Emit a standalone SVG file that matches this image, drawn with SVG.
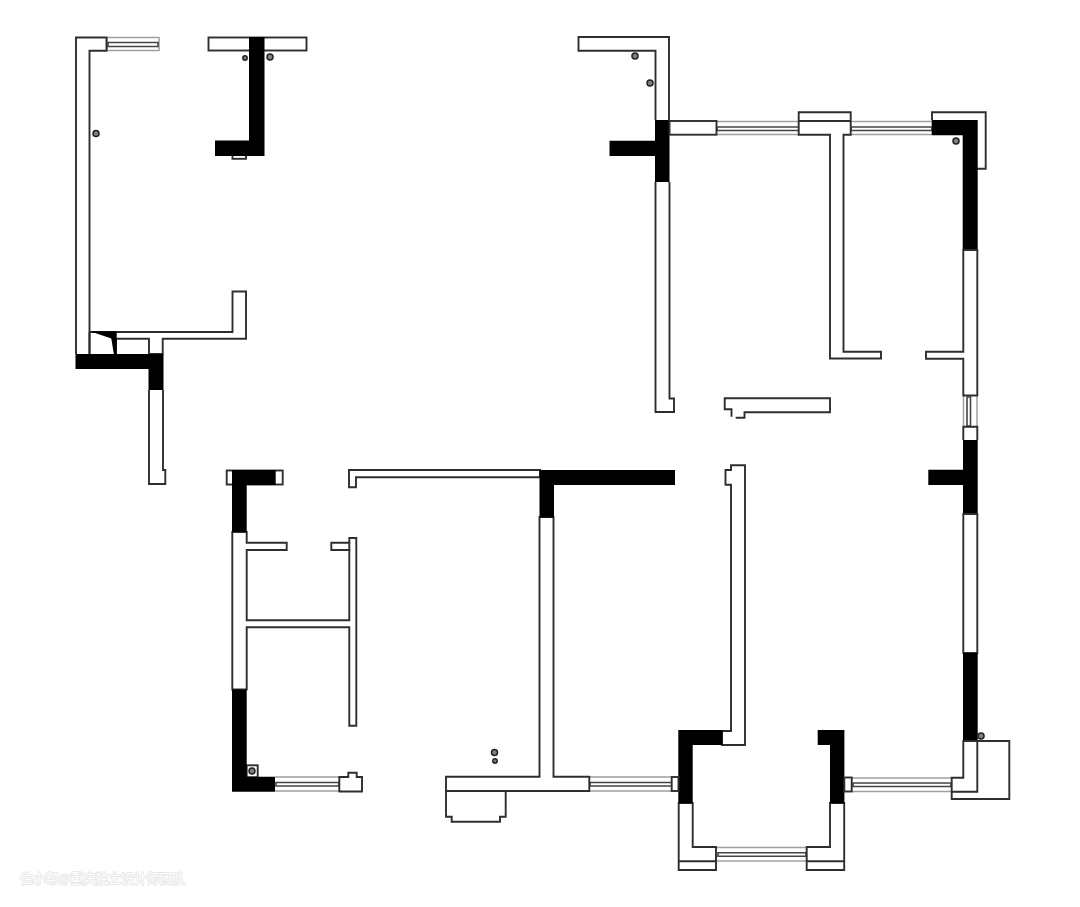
<svg xmlns="http://www.w3.org/2000/svg" width="1080" height="907" viewBox="0 0 1080 907">
<style>
.w{fill:#fff;stroke:#2e2e2e;stroke-width:1.9;stroke-linejoin:miter}
.l{fill:none;stroke:#2e2e2e;stroke-width:1.9}
.b{fill:#000;stroke:none}
.g{fill:none;stroke:#a0a0a0;stroke-width:1.5}
.i{fill:#fff;stroke:#444;stroke-width:1.6}
.c{fill:#808080;stroke:#222;stroke-width:1.5}
.m{font-family:"Noto Sans CJK SC","Liberation Sans",sans-serif;font-size:13px;fill:#fff;stroke:#e6e6e6;stroke-width:1.6px;paint-order:stroke}
</style>
<rect width="1080" height="907" fill="#fff"/>

<!-- windows -->
<g id="windows">
<path class="g" d="M107 37.5H159V50.5H107ZM717 121.5H799M717 134.5H799M851 121.5H932M851 134.5H932M275 777H339M275 791H339M589 777H672M589 791H672M852 778H952M852 791.5H952M716 847.5H807M716 861H807M963.5 396V427M977 396V427"/>
<path class="i" d="M108 42.5H158V46.5H108ZM717 127H799V130.5H717ZM851 127H932V130.5H851ZM276 782.5H339V786H276ZM590 782.5H672V786H590ZM853 783H951V786.5H853ZM718 852.7H806V856.2H718ZM967 397V426H970.5V397Z"/>
</g>

<!-- top-left walls -->
<path class="w" d="M76 354V37.5H106.5V50.7H89.5V354"/>
<path class="w" d="M89.5 332H232.5V291.5H246V338.7H162.7V354H149V338.7H116V354"/>
<path class="l" d="M89.5 332V354"/>
<path class="b" d="M90 331.3H116.7V354H113.8L111.3 338.5Z"/>
<path class="b" d="M75.5 354H163.5V390H148.5V369H75.5Z"/>
<path class="w" d="M149 390V484H165.3V470H163V390"/>

<!-- top T wall -->
<rect class="w" x="208.5" y="37.5" width="98" height="13"/>
<rect class="w" x="232.5" y="155" width="13.5" height="3.8"/>
<path class="b" d="M249 37H264.5V156H215V140.5H249Z"/>

<!-- upper-right walls -->
<path class="w" d="M655.5 120V50.7H578.5V37H669V120"/>
<path class="w" d="M655.5 182V412H674V398.5H669.5V182"/>
<path class="b" d="M655 120H669.5V182H655V156H609.5V140.7H655Z"/>
<rect class="w" x="669.5" y="121" width="47" height="13.7"/>
<path class="w" d="M830 358.5V134.7H798.7V112.3H850.7V134.7H843.5V351.7H881V358.5Z"/>
<path class="l" d="M798.7 121H850.7"/>
<path class="w" d="M932 120V112.3H985.7V168.7H977"/>
<path class="b" d="M931.7 120H977.7V250.5H962.7V135.3H931.7Z"/>

<!-- right wall -->
<path class="w" d="M963.3 250V351.7H926V358.7H963.3V395.5H977.3V250Z"/>
<path class="w" d="M963.3 440V426.7H977.3V440"/>
<path class="b" d="M963 440H977.7V514.5H963V485H928.3V469.7H963Z"/>
<path class="w" d="M963.3 514V653H977.3V514Z"/>
<path class="b" d="M963 653H977.7V741.5H963Z"/>
<path class="w" d="M977.3 741H1009.3V799H951.7V777.7H963.3V741H977.3V791.7H951.7"/>

<!-- beam -->
<path class="l" d="M735.7 417.7H744.5V412.3H830V398.3H724.7V409.3H731.5V416.7"/>

<!-- bay -->
<path class="w" d="M745 465.3H731V470H725.5V484.7H731V731H722V745H745Z"/>
<path class="w" d="M678.7 803V870H716V847H692.7V803Z"/>
<path class="l" d="M678.7 861.3H716"/>
<path class="w" d="M844.2 803V870H806.7V847H830V803Z"/>
<path class="l" d="M806.7 861.3H844.2"/>
<path class="b" d="M678.3 730H722.5V745H692.7V803.3H678.3Z"/>
<path class="b" d="M817.7 730H844.4V803.3H830V745H817.7Z"/>
<rect class="w" x="844.3" y="777.5" width="7.4" height="14"/>
<rect class="w" x="671.7" y="777" width="6.8" height="14"/>

<!-- lower-left rooms -->
<rect class="w" x="226.7" y="470.5" width="56" height="14"/>
<path class="w" d="M232.3 532V689.5H246.7V627.3H349.3V725.7H356.3V538H349.3V542.7H331.3V550H349.3V620.3H246.7V550H286.7V542.7H246.7V532Z"/>
<path class="l" d="M349.3 542V551"/>
<path class="b" d="M232 470H275.7V485H246.7V532H232Z"/>
<rect class="w" x="246.7" y="765.3" width="11" height="12"/>
<path class="b" d="M232 689.5H246.7V776.7H275V791.7H232Z"/>
<path class="w" d="M339.3 791.5V777H348.3V772.7H356.7V777H362V791.5Z"/>

<!-- central walls -->
<path class="w" d="M540 470H349V487.3H356V477.3H540Z"/>
<path class="w" d="M446 791V816.7H451.7V821.7H500V816.7H505.7V791"/>
<path class="w" d="M539.5 517V776.8H446V791H589.3V776.8H553.5V517Z"/>
<path class="b" d="M539.5 470H675V485H554V517.5H539.5Z"/>

<!-- columns -->
<g id="fixtures">
<circle class="c" cx="96" cy="133.5" r="3"/>
<circle class="c" cx="245" cy="58" r="2.2"/>
<circle class="c" cx="270" cy="57" r="3"/>
<circle class="c" cx="635" cy="56" r="3"/>
<circle class="c" cx="650" cy="83" r="3"/>
<circle class="c" cx="956" cy="141" r="3"/>
<circle class="c" cx="981" cy="736" r="3"/>
<circle class="c" cx="252" cy="771" r="3"/>
<circle class="c" cx="494.5" cy="752.5" r="3"/>
<circle class="c" cx="495" cy="761" r="2.2"/>
</g>

<text class="m" x="20" y="883" textLength="165" lengthAdjust="spacingAndGlyphs">住小帮@重庆独立设计师团队</text>
</svg>
